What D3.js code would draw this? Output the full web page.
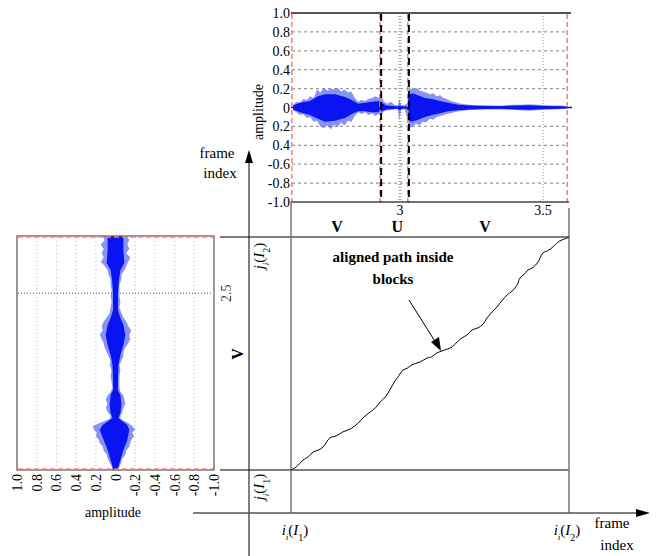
<!DOCTYPE html>
<meta charset="utf-8">
<style>
body { margin: 0; background: #fff; }
text { font-family: "Liberation Serif", "DejaVu Serif", "Times New Roman", serif; fill: #000; }
.bold { font-weight: bold; }
</style>
<svg width="665" height="556"></svg>
<script src="https://d3js.org/d3.v7.min.js"></script>
<script>

// top waveform (signal I2): outer envelope
var topTime    = [2.626, 2.638, 2.650, 2.662, 2.674, 2.686, 2.698, 2.710, 2.722, 2.734, 2.746, 2.758, 2.770, 2.782, 2.794, 2.806, 2.818, 2.830, 2.842, 2.854, 2.866, 2.878, 2.890, 2.902, 2.914, 2.926, 2.934, 2.944, 2.956, 2.968, 2.980, 2.992, 2.998, 3.004, 3.016, 3.026, 3.032, 3.044, 3.056, 3.068, 3.080, 3.092, 3.104, 3.116, 3.128, 3.140, 3.152, 3.164, 3.176, 3.190, 3.205, 3.225, 3.245, 3.270, 3.300, 3.330, 3.360, 3.390, 3.420, 3.450, 3.480, 3.510, 3.540, 3.570, 3.587];
var topOuterHi = [0.03, 0.06, 0.05, 0.09, 0.08, 0.12, 0.10, 0.19, 0.16, 0.21, 0.18, 0.20, 0.19, 0.21, 0.17, 0.19, 0.16, 0.17, 0.10, 0.06, 0.08, 0.07, 0.09, 0.10, 0.12, 0.10, 0.13, 0.06, 0.04, 0.06, 0.03, 0.02, 0.09, 0.02, 0.03, 0.04, 0.21, 0.19, 0.21, 0.18, 0.17, 0.16, 0.14, 0.15, 0.12, 0.13, 0.10, 0.09, 0.07, 0.06, 0.045, 0.035, 0.03, 0.025, 0.025, 0.02, 0.02, 0.03, 0.03, 0.035, 0.03, 0.025, 0.02, 0.02, 0.01];
var topOuterLo = [-0.03, -0.05, -0.08, -0.07, -0.11, -0.10, -0.15, -0.14, -0.20, -0.22, -0.19, -0.23, -0.18, -0.21, -0.16, -0.19, -0.14, -0.15, -0.09, -0.05, -0.07, -0.05, -0.08, -0.06, -0.09, -0.07, -0.08, -0.04, -0.03, -0.03, -0.02, -0.02, -0.14, -0.02, -0.02, -0.12, -0.22, -0.20, -0.17, -0.19, -0.15, -0.16, -0.12, -0.13, -0.10, -0.09, -0.08, -0.07, -0.06, -0.05, -0.04, -0.035, -0.025, -0.025, -0.02, -0.02, -0.02, -0.025, -0.03, -0.035, -0.03, -0.025, -0.02, -0.015, -0.01];
// top waveform: dense core
var topCoreTime = [2.626, 2.650, 2.685, 2.713, 2.738, 2.773, 2.808, 2.832, 2.853, 2.878, 2.902, 2.923, 2.937, 2.951, 2.972, 2.990, 3.000, 3.008, 3.024, 3.031, 3.042, 3.063, 3.087, 3.112, 3.140, 3.168, 3.203, 3.245, 3.297, 3.350, 3.402, 3.455, 3.507, 3.559, 3.587];
var topCoreHi = [0.02, 0.05, 0.07, 0.12, 0.14, 0.14, 0.11, 0.08, 0.04, 0.05, 0.06, 0.07, 0.05, 0.02, 0.015, 0.01, 0.02, 0.01, 0.01, 0.13, 0.15, 0.13, 0.10, 0.09, 0.07, 0.05, 0.03, 0.02, 0.015, 0.012, 0.02, 0.025, 0.017, 0.012, 0.006];
var topCoreLo = [-0.02, -0.05, -0.08, -0.12, -0.15, -0.14, -0.11, -0.07, -0.04, -0.04, -0.05, -0.05, -0.04, -0.02, -0.015, -0.01, -0.03, -0.01, -0.01, -0.14, -0.15, -0.13, -0.10, -0.08, -0.06, -0.04, -0.03, -0.02, -0.015, -0.012, -0.02, -0.025, -0.017, -0.012, -0.006];

// left waveform (signal I1), drawn rotated: outer envelope
var leftTime    = [2.300, 2.315, 2.330, 2.345, 2.360, 2.375, 2.390, 2.405, 2.420, 2.435, 2.450, 2.470, 2.490, 2.510, 2.530, 2.550, 2.570, 2.585, 2.600, 2.615, 2.630, 2.645, 2.660, 2.675, 2.690, 2.705, 2.720, 2.735, 2.750, 2.770, 2.790, 2.810, 2.830, 2.845, 2.858, 2.872, 2.886, 2.900, 2.914, 2.928, 2.940, 2.952, 2.964, 2.976, 2.988, 3.000, 3.012, 3.024, 3.036, 3.050, 3.064, 3.078, 3.092, 3.106, 3.118];
var leftOuterHi = [0.13, 0.11, 0.15, 0.12, 0.14, 0.12, 0.15, 0.11, 0.08, 0.07, 0.05, 0.05, 0.04, 0.05, 0.04, 0.05, 0.06, 0.09, 0.12, 0.14, 0.13, 0.16, 0.14, 0.12, 0.11, 0.09, 0.07, 0.05, 0.06, 0.04, 0.05, 0.04, 0.03, 0.05, 0.08, 0.10, 0.08, 0.10, 0.08, 0.05, 0.06, 0.15, 0.23, 0.22, 0.19, 0.20, 0.17, 0.16, 0.13, 0.12, 0.09, 0.08, 0.06, 0.04, 0.03];
var leftOuterLo = [-0.12, -0.14, -0.12, -0.14, -0.11, -0.15, -0.13, -0.11, -0.09, -0.06, -0.06, -0.04, -0.04, -0.04, -0.05, -0.04, -0.06, -0.08, -0.11, -0.13, -0.16, -0.14, -0.15, -0.13, -0.10, -0.08, -0.08, -0.06, -0.04, -0.05, -0.04, -0.04, -0.04, -0.05, -0.08, -0.09, -0.10, -0.08, -0.07, -0.05, -0.05, -0.12, -0.17, -0.20, -0.17, -0.19, -0.16, -0.15, -0.14, -0.11, -0.10, -0.07, -0.06, -0.04, -0.03];
// left waveform: dense core
var leftCoreTime = [2.300, 2.349, 2.394, 2.419, 2.454, 2.500, 2.559, 2.587, 2.611, 2.646, 2.681, 2.716, 2.751, 2.803, 2.838, 2.856, 2.891, 2.919, 2.936, 2.961, 2.978, 3.013, 3.048, 3.083, 3.118];
var leftCoreHi = [0.08, 0.08, 0.09, 0.05, 0.035, 0.025, 0.025, 0.05, 0.08, 0.10, 0.08, 0.05, 0.03, 0.025, 0.025, 0.05, 0.06, 0.05, 0.03, 0.13, 0.16, 0.12, 0.08, 0.05, 0.02];
var leftCoreLo = [-0.08, -0.08, -0.09, -0.05, -0.035, -0.025, -0.025, -0.05, -0.08, -0.10, -0.08, -0.05, -0.03, -0.025, -0.025, -0.05, -0.06, -0.05, -0.03, -0.12, -0.14, -0.12, -0.08, -0.05, -0.02];

// segment marks and labels
var topBounds   = [2.934, 3.031];
var topGridT    = [3, 3.5];
var topTickLab  = ["3", "3.5"];
var ampTicks    = [1, 0.8, 0.6, 0.4, 0.2, 0, -0.2, -0.4, -0.6, -0.8, -1];
var topAmpLab   = ["1.0", "0.8", "0.6", "0.4", "0.2", "0", "0.2", "0.4", "-0.6", "-0.8", "-1.0"];
var leftAmpLab  = ["1.0", "0.8", "0.6", "0.4", "0.2", "0", "-0.2", "-0.4", "-0.6", "-0.8", "-1.0"];
var segTime     = [2.78, 2.99, 3.297];
var segLab      = ["V", "U", "V"];

// aligned path, frame indices (i of I2, j of I1)
var pathI = [0, 2, 4.2, 6, 7.7, 9.5, 11.2, 12.4, 13.6, 16, 18.1, 21, 23.4, 25.5, 27.6, 29.5, 31.1, 33, 34.5, 36, 37.3, 39.1, 40.5, 42.2, 45, 47.5, 49, 50.9, 52.7, 56.2, 58, 59.7, 61.5, 63.2, 65.2, 67, 68.4, 70.2, 71.9, 73.6, 75.4, 77.2, 78.9, 79.9, 81.3, 82.7, 84.5, 86.2, 87.9, 89.6, 91.4, 93, 94.6, 96, 97];
var pathJ = [0, 1.2, 3.5, 4.6, 6.3, 7.0, 8.1, 9.9, 11.3, 12.1, 13.4, 14.6, 16.5, 18.7, 20.4, 21.9, 23.9, 25.8, 28.2, 30.9, 32.7, 35.2, 35.8, 37.0, 38.0, 39.4, 39.8, 41.2, 41.9, 43.3, 45.1, 46.5, 47.6, 49.3, 50.0, 51.3, 53.5, 55.6, 57.4, 59.6, 61.6, 63.0, 65.1, 67.6, 68.8, 70.4, 71.3, 73.2, 76.4, 77.2, 78.5, 80.1, 81.0, 81.5, 82];

var svg = d3.select("svg");
var SERIF = "'Liberation Serif', 'DejaVu Serif', serif";

var topX = d3.scaleLinear().domain([2.619, 3.587]).range([291, 568]),
    topY = d3.scaleLinear().domain([-1, 1]).range([202, 13]),
    leftA = d3.scaleLinear().domain([1, -1]).range([17, 214]),
    leftT = d3.scaleLinear().domain([2.3, 3.118]).range([236, 470]),
    frameX = d3.scaleLinear().domain([0, 97]).range([291, 569]),
    frameY = d3.scaleLinear().domain([0, 82]).range([470, 237]);

// ---------- top waveform ----------
var gTop = svg.append("g");

gTop.selectAll(".hgrid")
  .data(ampTicks.slice(1, -1))
  .enter().append("line")
    .attr("x1", 292).attr("x2", 567)
    .attr("y1", function(d) { return topY(d); })
    .attr("y2", function(d) { return topY(d); })
    .attr("stroke", "#999").attr("stroke-width", 1.2)
    .attr("stroke-dasharray", "3,3");

gTop.selectAll(".vgrid")
  .data(topGridT)
  .enter().append("line")
    .attr("x1", function(d) { return topX(d); })
    .attr("x2", function(d) { return topX(d); })
    .attr("y1", 13).attr("y2", 202)
    .attr("stroke", "#aaa").attr("stroke-width", function(d, i) { return i ? 1.2 : 3; })
    .attr("stroke-dasharray", "1,2");

var topOuter = d3.area()
    .x(function(d, i) { return topX(topTime[i]); })
    .y0(function(d, i) { return topY(topOuterLo[i]); })
    .y1(function(d, i) { return topY(topOuterHi[i]); });
var topCore = d3.area()
    .x(function(d, i) { return topX(topCoreTime[i]); })
    .y0(function(d, i) { return topY(topCoreLo[i]); })
    .y1(function(d, i) { return topY(topCoreHi[i]); });

gTop.append("path").attr("d", topOuter(topTime))
    .attr("fill", "#6a78f0").attr("fill-opacity", 0.8);
gTop.append("path").attr("d", topCore(topCoreTime))
    .attr("fill", "#0a14f0");
gTop.append("line")
    .attr("x1", topX(2.619)).attr("x2", 572)
    .attr("y1", topY(0)).attr("y2", topY(0))
    .attr("stroke", "#0a14f0").attr("stroke-width", 1.5);

// red block edges and black segment bounds
gTop.selectAll(".red")
  .data([2.622, topBounds[0] - 0.004, topBounds[1] - 0.004, 3.584])
  .enter().append("line")
    .attr("x1", function(d) { return topX(d); })
    .attr("x2", function(d) { return topX(d); })
    .attr("y1", 14).attr("y2", 202)
    .attr("stroke", "#f08080").attr("stroke-width", 1.5)
    .attr("stroke-dasharray", "5,3");
gTop.selectAll(".bound")
  .data(topBounds)
  .enter().append("line")
    .attr("x1", function(d) { return topX(d); })
    .attr("x2", function(d) { return topX(d); })
    .attr("y1", 14).attr("y2", 202)
    .attr("stroke", "#000").attr("stroke-width", 2)
    .attr("stroke-dasharray", "7,4");

gTop.append("line").attr("x1", 291).attr("x2", 571).attr("y1", 13).attr("y2", 13)
    .attr("stroke", "#555").attr("stroke-width", 2);
gTop.append("line").attr("x1", 291).attr("x2", 569).attr("y1", 202).attr("y2", 202)
    .attr("stroke", "#444").attr("stroke-width", 1.5);

gTop.selectAll(".ylab")
  .data(ampTicks)
  .enter().append("text")
    .attr("x", 290)
    .attr("y", function(d) { return topY(d) + 5; })
    .attr("text-anchor", "end")
    .style("font-family", SERIF).style("font-size", "14px")
    .text(function(d, i) { return topAmpLab[i]; });

gTop.append("text")
    .attr("transform", "translate(263,112) rotate(-90)")
    .attr("text-anchor", "middle")
    .style("font-family", SERIF).style("font-size", "14px")
    .text("amplitude");

gTop.selectAll(".xlab")
  .data(topGridT)
  .enter().append("text")
    .attr("x", function(d) { return topX(d); })
    .attr("y", 215)
    .attr("text-anchor", "middle")
    .style("font-family", SERIF).style("font-size", "14px")
    .text(function(d, i) { return topTickLab[i]; });

gTop.selectAll(".seg")
  .data(segTime)
  .enter().append("text")
    .attr("class", "bold")
    .attr("x", function(d) { return topX(d); })
    .attr("y", 232)
    .attr("text-anchor", "middle")
    .style("font-family", SERIF).style("font-size", "16px")
    .text(function(d, i) { return segLab[i]; });

// ---------- left waveform ----------
var gLeft = svg.append("g");

gLeft.selectAll(".vgrid")
  .data(ampTicks.slice(1, -1).filter(function(d) { return d !== 0; }))
  .enter().append("line")
    .attr("x1", function(d) { return leftA(d); })
    .attr("x2", function(d) { return leftA(d); })
    .attr("y1", 237).attr("y2", 469)
    .attr("stroke", "#bbb").attr("stroke-width", 1.2)
    .attr("stroke-dasharray", "1,3");

gLeft.append("line")
    .attr("x1", 18).attr("x2", 213)
    .attr("y1", leftT(2.5)).attr("y2", leftT(2.5))
    .attr("stroke", "#888").attr("stroke-width", 1.5)
    .attr("stroke-dasharray", "1,2");

var leftOuter = d3.area()
    .y(function(d, i) { return leftT(leftTime[i]); })
    .x0(function(d, i) { return leftA(leftOuterLo[i]); })
    .x1(function(d, i) { return leftA(leftOuterHi[i]); });
var leftCore = d3.area()
    .y(function(d, i) { return leftT(leftCoreTime[i]); })
    .x0(function(d, i) { return leftA(leftCoreLo[i]); })
    .x1(function(d, i) { return leftA(leftCoreHi[i]); });

gLeft.append("path").attr("d", leftOuter(leftTime))
    .attr("fill", "#6a78f0").attr("fill-opacity", 0.8);
gLeft.append("path").attr("d", leftCore(leftCoreTime))
    .attr("fill", "#0a14f0");

gLeft.append("rect")
    .attr("x", 17).attr("y", 236).attr("width", 197).attr("height", 234)
    .attr("fill", "none").attr("stroke", "#555").attr("stroke-width", 1.2);
gLeft.selectAll(".red")
  .data([237, 469])
  .enter().append("line")
    .attr("x1", 18).attr("x2", 213)
    .attr("y1", function(d) { return d; }).attr("y2", function(d) { return d; })
    .attr("stroke", "#f08080").attr("stroke-width", 1.5)
    .attr("stroke-dasharray", "5,3");

gLeft.selectAll(".xlab")
  .data(ampTicks)
  .enter().append("text")
    .attr("transform", function(d) { return "translate(" + (leftA(d) + 5) + ",474) rotate(-90)"; })
    .attr("text-anchor", "end")
    .style("font-family", SERIF).style("font-size", "14px")
    .text(function(d, i) { return leftAmpLab[i]; });

gLeft.append("text")
    .attr("x", 113).attr("y", 517)
    .attr("text-anchor", "middle")
    .style("font-family", SERIF).style("font-size", "14px")
    .text("amplitude");

gLeft.append("text")
    .attr("transform", "translate(231," + leftT(2.5) + ") rotate(-90)")
    .attr("text-anchor", "middle")
    .style("font-family", SERIF).style("font-size", "14px")
    .attr("fill-opacity", 0.8)
    .text("2.5");

gLeft.append("text")
    .attr("class", "bold")
    .attr("transform", "translate(243,354) rotate(-90)")
    .attr("text-anchor", "middle")
    .style("font-family", SERIF).style("font-size", "16px")
    .text("V");

// ---------- alignment area ----------
var gMain = svg.append("g");

gMain.selectAll(".block")
  .data([0, 82])
  .enter().append("line")
    .attr("x1", 220).attr("x2", frameX(97))
    .attr("y1", function(d) { return frameY(d); })
    .attr("y2", function(d) { return frameY(d); })
    .attr("stroke", "#000").attr("stroke-width", 1);

gMain.selectAll(".vblock")
  .data([0, 97])
  .enter().append("line")
    .attr("x1", function(d) { return frameX(d); })
    .attr("x2", function(d) { return frameX(d); })
    .attr("y1", function(d) { return d ? 208 : 202; }).attr("y2", 513)
    .attr("stroke", "#777").attr("stroke-width", 1.5);

var pathLine = d3.line()
    .x(function(d, i) { return frameX(pathI[i]); })
    .y(function(d, i) { return frameY(pathJ[i]); })
    .curve(d3.curveCatmullRom);

gMain.append("path")
    .attr("d", pathLine(pathI))
    .attr("fill", "none").attr("stroke", "#000").attr("stroke-width", 1);

// axes with arrows
gMain.append("line").attr("x1", 249).attr("x2", 249).attr("y1", 556).attr("y2", 160)
    .attr("stroke", "#000").attr("stroke-width", 1);
gMain.append("path").attr("d", "M249,150L245,163L253,163Z").attr("fill", "#000");
gMain.append("line").attr("x1", 193).attr("x2", 638).attr("y1", 513).attr("y2", 513)
    .attr("stroke", "#555").attr("stroke-width", 1.5);
gMain.append("path").attr("d", "M650,513L636,509L636,517Z").attr("fill", "#000");

gMain.append("text").attr("x", 217).attr("y", 158).attr("text-anchor", "middle")
    .style("font-family", SERIF).style("font-size", "15px").text("frame");
gMain.append("text").attr("x", 220).attr("y", 178).attr("text-anchor", "middle")
    .style("font-family", SERIF).style("font-size", "15px").text("index");
gMain.append("text").attr("x", 612).attr("y", 528).attr("text-anchor", "middle")
    .style("font-family", SERIF).style("font-size", "15px").text("frame");
gMain.append("text").attr("x", 617).attr("y", 550).attr("text-anchor", "middle")
    .style("font-family", SERIF).style("font-size", "15px").text("index");

// index labels with subscripts
function indexLabel(g, base, sub, num) {
  var t = g.append("text").attr("text-anchor", "middle")
      .style("font-family", SERIF).style("font-size", "15px");
  t.append("tspan").style("font-style", "italic").text(base);
  t.append("tspan").attr("baseline-shift", "sub").style("font-size", "9px").style("font-style", "italic").text(sub);
  t.append("tspan").text("(");
  t.append("tspan").style("font-style", "italic").text("I");
  t.append("tspan").attr("baseline-shift", "sub").style("font-size", "10px").text(num);
  t.append("tspan").text(")");
  return t;
}
indexLabel(gMain, "i", "i", "1").attr("transform", "translate(" + (frameX(0) + 4) + ",535)");
indexLabel(gMain, "i", "i", "2").attr("transform", "translate(" + (frameX(97) - 2) + ",535)");
indexLabel(gMain, "j", "i", "2").attr("transform", "translate(264," + (frameY(82) + 19) + ") rotate(-90)");
indexLabel(gMain, "j", "i", "1").attr("transform", "translate(264," + (frameY(0) + 17) + ") rotate(-90)");

// annotation
gMain.append("text").attr("class", "bold").attr("x", 393).attr("y", 262)
    .attr("text-anchor", "middle").style("font-family", SERIF).style("font-size", "15px").text("aligned path inside");
gMain.append("text").attr("class", "bold").attr("x", 393).attr("y", 284)
    .attr("text-anchor", "middle").style("font-family", SERIF).style("font-size", "15px").text("blocks");
gMain.append("line").attr("x1", 409).attr("y1", 300).attr("x2", 436).attr("y2", 343)
    .attr("stroke", "#000").attr("stroke-width", 1);
gMain.append("path").attr("d", "M441,351L431,342L439,337Z").attr("fill", "#000");

</script>
